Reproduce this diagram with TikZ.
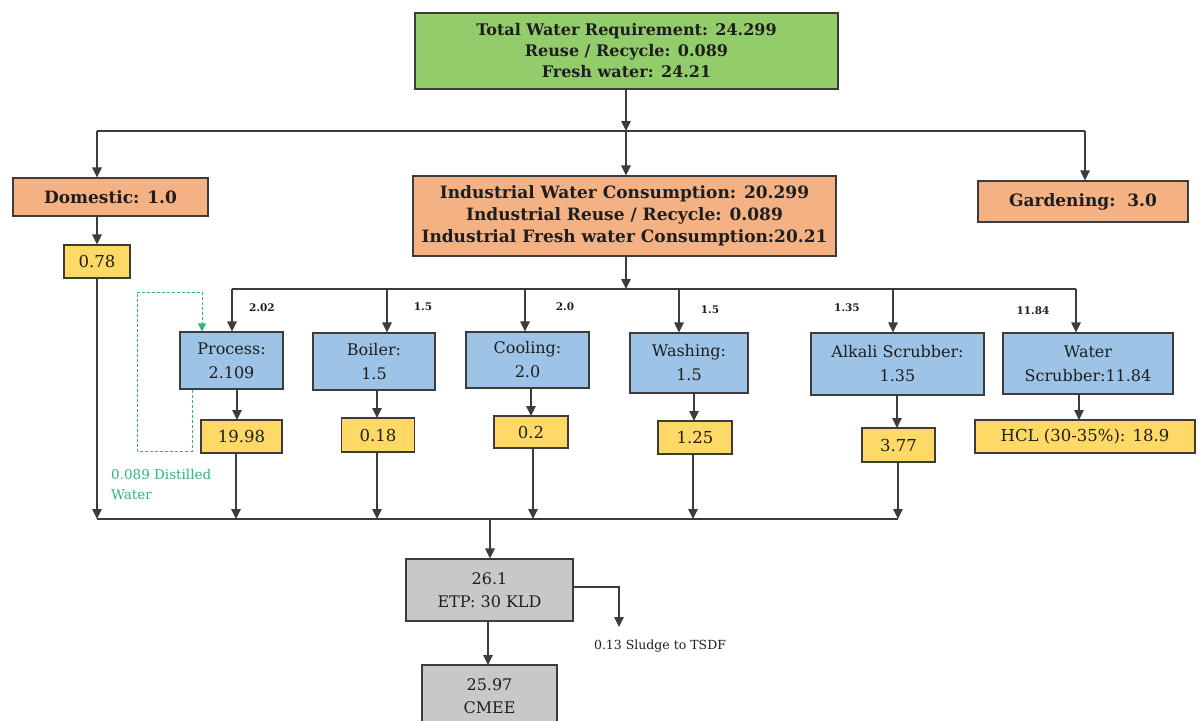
\documentclass[tikz,border=0pt]{standalone}
\usepackage{fontspec}
\setmainfont{DejaVu Serif}
\usetikzlibrary{arrows.meta}
\definecolor{edge}{HTML}{3C3C3C}
\definecolor{txt}{HTML}{1E1E1E}
\definecolor{gfill}{HTML}{93CD6B}
\definecolor{ofill}{HTML}{F4B183}
\definecolor{bfill}{HTML}{9DC3E6}
\definecolor{yfill}{HTML}{FFD966}
\definecolor{sfill}{HTML}{C8C8C8}
\definecolor{dgreen}{HTML}{2FB57A}
\begin{document}
\begin{tikzpicture}[x=1pt,y=-1pt,
  box/.style={draw=edge, line width=1.1pt, inner sep=0pt, align=center, text=txt},
  topbox/.style={box, fill=gfill, font=\bfseries\fontsize{16}{21}\selectfont},
  orbox/.style={box, fill=ofill, font=\bfseries\fontsize{17}{22}\selectfont},
  unitbox/.style={box, fill=bfill, font=\fontsize{16}{24}\selectfont},
  outbox/.style={box, fill=yfill, font=\fontsize{16.5}{18}\selectfont},
  etpbox/.style={box, fill=sfill, font=\fontsize{16}{23}\selectfont},
  flowlbl/.style={inner sep=0pt, text=txt, font=\bfseries\fontsize{10.5}{12}\selectfont},
  conn/.style={draw=edge, line width=1.1pt},
  arr/.style={conn, -{Triangle[length=10pt,width=9.5pt]}},
  recyc/.style={draw=dgreen, line width=1pt, dash pattern=on 3pt off 2pt}
]
\useasboundingbox (0,0) rectangle (1198,720);
\clip (0,0) rectangle (1198,720);

% ---- supply level
\node[topbox, minimum width=423pt, minimum height=76pt] (total) at (626.5,51)
  {Total Water Requirement: 24.299\\Reuse / Recycle: 0.089\\Fresh water: 24.21};
\node[orbox, minimum width=195pt, minimum height=38pt] (dom) at (110.5,197) {Domestic: 1.0};
\node[orbox, minimum width=423pt, minimum height=80pt] (ind) at (624.5,216)
  {Industrial Water Consumption: 20.299\\Industrial Reuse / Recycle: 0.089\\Industrial Fresh water Consumption:20.21};
\node[orbox, minimum width=210pt, minimum height=41pt] (gard) at (1083,201.5) {Gardening:\ \ 3.0};
\node[outbox, minimum width=66pt, minimum height=33pt] (domout) at (97,261.5) {0.78};

% ---- distribution bus from the total
\coordinate (busA) at (626,131);
\coordinate (busL) at (97,131);
\coordinate (busR) at (1085,131);
\draw[arr] (total.south -| busA) -- (busA);
\draw[conn] (busL) -- (busR);
\draw[arr] (busL) -- (busL |- dom.north);
\draw[arr] (busA) -- (busA |- ind.north);
\draw[arr] (busR) -- (busR |- gard.north);
\draw[arr] (dom.south -| domout) -- (domout.north);

% ---- industrial units
\node[unitbox, minimum width=103pt, minimum height=57pt] (proc) at (231.5,360.5) {Process:\\2.109};
\node[unitbox, minimum width=122pt, minimum height=57pt] (boil) at (374,361.5) {Boiler:\\1.5};
\node[unitbox, minimum width=123pt, minimum height=56pt] (cool) at (527.5,360) {Cooling:\\2.0};
\node[unitbox, minimum width=118pt, minimum height=60pt] (wash) at (689,363) {Washing:\\1.5};
\node[unitbox, minimum width=173pt, minimum height=62pt] (alk) at (897.5,364) {Alkali Scrubber:\\1.35};
\node[unitbox, minimum width=170pt, minimum height=61pt] (wscr) at (1088,363.5) {Water\\Scrubber:11.84};

\node[outbox, minimum width=81pt, minimum height=33pt] (oproc) at (241.5,436.5) {19.98};
\node[outbox, minimum width=73pt, minimum height=34pt] (oboil) at (378,435) {0.18};
\node[outbox, minimum width=74pt, minimum height=32pt] (ocool) at (531,432) {0.2};
\node[outbox, minimum width=74pt, minimum height=33pt] (owash) at (695,437.5) {1.25};
\node[outbox, minimum width=73pt, minimum height=34pt] (oalk) at (898.5,445) {3.77};
\node[outbox, minimum width=220pt, minimum height=33pt] (ohcl) at (1085,436.5) {HCL (30-35\%): 18.9};

% industrial bus
\coordinate (ibus) at (626,289);
\coordinate (i1) at (232,289);
\coordinate (i2) at (387,289);
\coordinate (i3) at (525,289);
\coordinate (i4) at (679,289);
\coordinate (i5) at (893,289);
\coordinate (i6) at (1076,289);
\draw[arr] (ind.south -| ibus) -- (ibus);
\draw[conn] (i1) -- (i6);
\draw[arr] (i1) -- (i1 |- proc.north);
\draw[arr] (i2) -- (i2 |- boil.north);
\draw[arr] (i3) -- (i3 |- cool.north);
\draw[arr] (i4) -- (i4 |- wash.north);
\draw[arr] (i5) -- (i5 |- alk.north);
\draw[arr] (i6) -- (i6 |- wscr.north);

\node[flowlbl] (f1) at (262,308) {2.02};
\node[flowlbl] (f2) at (423,307) {1.5};
\node[flowlbl] (f3) at (565,307) {2.0};
\node[flowlbl] (f4) at (710,310) {1.5};
\node[flowlbl] (f5) at (847,308) {1.35};
\node[flowlbl] (f6) at (1033,311) {11.84};

% unit to effluent stream
\draw[arr] (237,389) -- (237,420);
\draw[arr] (377,390) -- (377,418);
\draw[arr] (531,388) -- (531,416);
\draw[arr] (694,393) -- (694,421);
\draw[arr] (897,395) -- (897,428);
\draw[arr] (1079,394) -- (1079,420);

% distilled water recycle loop
\coordinate (rc1) at (192,451);
\coordinate (rc2) at (137,451);
\coordinate (rc3) at (137,292);
\coordinate (rc4) at (202,292);
\draw[recyc] (proc.south -| rc1) -- (rc1) -- (rc2) -- (rc3) -- (rc4);
\draw[recyc, -{Triangle[length=8pt,width=8pt]}] (rc4) -- (rc4 |- proc.north);
\node[anchor=north west, align=left, inner sep=0pt, text=dgreen,
  font=\fontsize{13.5}{20}\selectfont] (dist) at (111,469) {0.089 Distilled\\Water};

% ---- effluent collector
\coordinate (cL) at (97,519);
\coordinate (cR) at (898,519);
\coordinate (cE) at (490,519);
\draw[conn] (cL) -- (cR);
\draw[arr] (domout.south) -- (cL);
\draw[arr] (236,453) -- (236,519);
\draw[arr] (377,452) -- (377,519);
\draw[arr] (533,448) -- (533,519);
\draw[arr] (693,454) -- (693,519);
\draw[arr] (898,462) -- (cR);

% ---- treatment
\node[etpbox, minimum width=167pt, minimum height=62pt] (etp) at (489.5,590) {26.1\\ETP: 30 KLD};
\node[etpbox, minimum width=135pt, minimum height=62pt] (cmee) at (489.5,696) {25.97\\CMEE};
\draw[arr] (cE) -- (cE |- etp.north);
\draw[arr] (488,621) -- (488,665);
\coordinate (sl) at (619,587);
\draw[arr] (etp.east |- sl) -- (sl) -- (619,627);
\node[inner sep=0pt, text=txt, font=\fontsize{12.5}{14}\selectfont] (sludge) at (660,646) {0.13 Sludge to TSDF};
\end{tikzpicture}
\end{document}
